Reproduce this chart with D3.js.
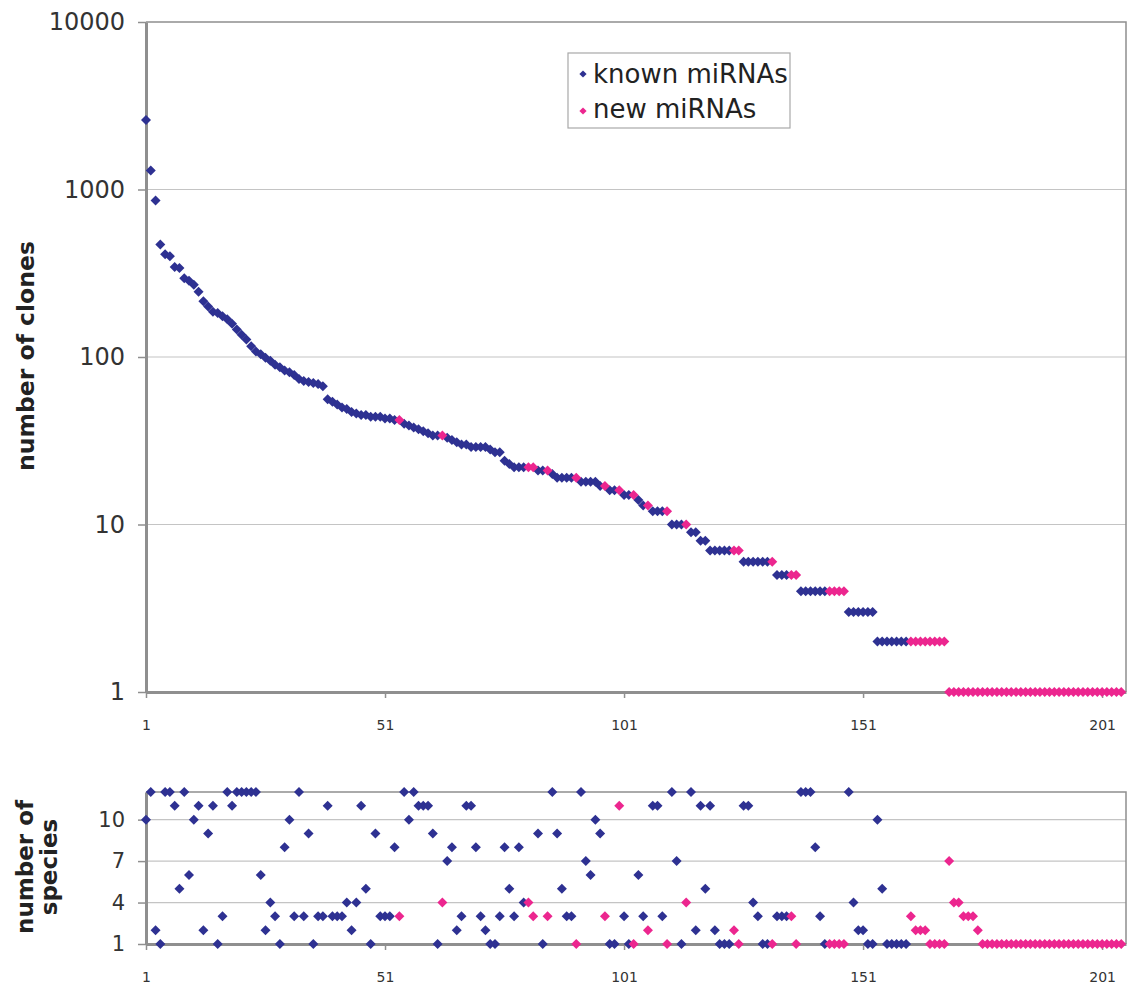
<!DOCTYPE html>
<html>
<head>
<meta charset="utf-8">
<script src="https://cdn.jsdelivr.net/npm/d3@7"></script>
<style>
  body { margin: 0; background: #fff; }
  svg { display: block; font-family: "DejaVu Sans", Verdana, sans-serif; }
</style>
</head>
<body>
<div id="chart"></div>
<script>
// number of clones per miRNA, ranked (rank 1..205)
const clones = [
    2600, 1300, 860, 470, 410, 400, 345, 340, 295, 285,
    270, 245, 215, 200, 186, 183, 175, 168, 158, 146,
    136, 127, 116, 108, 104, 99, 95, 90, 87, 83,
    81, 78, 74, 72, 71, 70, 69, 67,
    56, 54, 52, 50, 49, 47, 46, 45, 45, 44, 44, 44,
    43, 43, 42, 42, 40, 39, 38, 37, 36, 35,
    34, 34, 34, 33, 32, 31, 30, 30, 29, 29,
    29, 29, 28, 27, 27, 24, 23, 22, 22, 22,
    22, 22, 21, 21, 21, 20, 19, 19, 19, 19,
    19, 18, 18, 18, 18, 17, 17, 16, 16, 16,
    15, 15, 15, 14, 13, 13, 12, 12, 12, 12,
    10, 10, 10, 10, 9, 9, 8, 8, 7, 7,
    7, 7, 7, 7, 7, 6, 6, 6, 6, 6,
    6, 6, 5, 5, 5, 5, 5, 4, 4, 4,
    4, 4, 4, 4, 4, 4, 4, 3, 3, 3,
    3, 3, 3, 2, 2, 2, 2, 2, 2, 2,
    2, 2, 2, 2, 2, 2, 2, 2, 1, 1,
    1, 1, 1, 1, 1, 1, 1, 1, 1, 1,
    1, 1, 1, 1, 1, 1, 1, 1, 1, 1,
    1, 1, 1, 1, 1, 1, 1, 1, 1, 1,
    1, 1, 1, 1, 1
];

// number of species in which each miRNA was found (same ranking)
const species = [
    10, 12, 2, 1, 12, 12, 11, 5, 12, 6,
    10, 11, 2, 9, 11, 1, 3, 12, 11, 12,
    12, 12, 12, 12, 6, 2, 4, 3, 1, 8,
    10, 3, 12, 3, 9, 1, 3, 3, 11, 3,
    3, 3, 4, 2, 4, 11, 5, 1, 9, 3,
    3, 3, 8, 3, 12, 10, 12, 11, 11, 11,
    9, 1, 4, 7, 8, 2, 3, 11, 11, 8,
    3, 2, 1, 1, 3, 8, 5, 3, 8, 4,
    4, 3, 9, 1, 3, 12, 9, 5, 3, 3,
    1, 12, 7, 6, 10, 9, 3, 1, 1, 11,
    3, 1, 1, 6, 3, 2, 11, 11, 3, 1,
    12, 7, 1, 4, 12, 2, 11, 5, 11, 2,
    1, 1, 1, 2, 1, 11, 11, 4, 3, 1,
    1, 1, 3, 3, 3, 3, 1, 12, 12, 12,
    8, 3, 1, 1, 1, 1, 1, 12, 4, 2,
    2, 1, 1, 10, 5, 1, 1, 1, 1, 1,
    3, 2, 2, 2, 1, 1, 1, 1, 7, 4,
    4, 3, 3, 3, 2, 1, 1, 1, 1, 1,
    1, 1, 1, 1, 1, 1, 1, 1, 1, 1,
    1, 1, 1, 1, 1, 1, 1, 1, 1, 1,
    1, 1, 1, 1, 1
];

// ranks of the new miRNAs (all others are known)
const newRanks = [
    54, 63, 81, 82, 85, 91, 97, 100, 103, 106, 110, 114, 124, 125, 132,
    136, 137, 144, 145, 146, 147,
    161, 162, 163, 164, 165, 166, 167, 168, 169, 170, 171, 172, 173, 174, 175,
    176, 177, 178, 179, 180, 181, 182, 183, 184, 185, 186, 187, 188, 189, 190,
    191, 192, 193, 194, 195, 196, 197, 198, 199, 200, 201, 202, 203, 204, 205
];

const seriesNames = ["known miRNAs", "new miRNAs"];
const xTicks = [1, 51, 101, 151, 201];
const cloneTicks = [1, 10, 100, 1000, 10000];
const speciesTicks = [1, 4, 7, 10];

const colors = { "known miRNAs": "#2e3192", "new miRNAs": "#ec268f" };
const axisColor = "#8f8f8f";
const gridColor = "#c4c4c4";

let width = 1128,
    height = 985;

let svg = d3.select("#chart")
    .append("svg")
    .attr("width", width)
    .attr("height", height);

// data rows
const isNew = new Set(newRanks);
const rows = clones.map((c, i) => ({
    rank: i + 1,
    clones: c,
    species: species[i],
    type: isNew.has(i + 1) ? "new miRNAs" : "known miRNAs"
}));

// panels
const left = 146, right = 1126;
const top1 = 22, bottom1 = 692;
const top2 = 792, bottom2 = 944;

const x = d3.scaleLinear().domain([1, 206]).range([left, right]);
const yClones = d3.scaleLog().domain([1, 10000]).range([bottom1, top1]);
const ySpecies = d3.scaleLinear().domain([1, 12]).range([bottom2, top2]);

const diamond = "M0,-5L5,0L0,5L-5,0Z";

function drawPanel(y, yTicks, top, bottom, field, tickFont) {
    const g = svg.append("g");

    // grid lines
    g.selectAll("line.grid")
        .data(yTicks.filter(t => y(t) > top + 1 && y(t) < bottom - 1))
        .enter()
        .append("line")
        .attr("x1", left)
        .attr("x2", right)
        .attr("y1", d => y(d))
        .attr("y2", d => y(d))
        .attr("stroke", gridColor)
        .attr("stroke-width", 1.2);

    // top and right border
    g.append("path")
        .attr("d", `M${left},${top}H${right}V${bottom}`)
        .attr("fill", "none")
        .attr("stroke", axisColor)
        .attr("stroke-width", 1.5);

    // y axis
    const yAxis = g.append("g")
        .attr("transform", `translate(${left},0)`)
        .call(d3.axisLeft(y)
            .tickValues(yTicks)
            .tickFormat(d3.format("d"))
            .tickSize(8)
            .tickSizeOuter(0)
            .tickPadding(13));
    yAxis.select(".domain").attr("stroke", axisColor).attr("stroke-width", 3);
    yAxis.selectAll(".tick line").attr("stroke", axisColor).attr("stroke-width", 1.5);
    yAxis.selectAll("text")
        .attr("fill", "#333")
        .style("font-size", tickFont + "px")
        .style("font-family", "DejaVu Sans, Verdana, sans-serif");

    // x axis
    const xAxis = g.append("g")
        .attr("transform", `translate(0,${bottom})`)
        .call(d3.axisBottom(x)
            .tickValues(xTicks)
            .tickSize(6)
            .tickSizeOuter(0)
            .tickPadding(22));
    xAxis.select(".domain").attr("stroke", axisColor).attr("stroke-width", 3);
    xAxis.selectAll(".tick line").attr("stroke", axisColor).attr("stroke-width", 1.5);
    xAxis.selectAll("text")
        .attr("fill", "#333")
        .style("font-size", "14px")
        .style("font-family", "DejaVu Sans, Verdana, sans-serif");

    // markers, known series first then new
    seriesNames.forEach(name => {
        g.selectAll(null)
            .data(rows.filter(d => d.type === name))
            .enter()
            .append("path")
            .attr("d", diamond)
            .attr("transform", d => `translate(${x(d.rank)},${y(d[field])})`)
            .attr("fill", colors[name]);
    });
}

drawPanel(yClones, cloneTicks, top1, bottom1, "clones", 24);
drawPanel(ySpecies, speciesTicks, top2, bottom2, "species", 21);

// axis titles
svg.append("text")
    .attr("transform", "rotate(-90)")
    .attr("x", -356)
    .attr("y", 34)
    .attr("text-anchor", "middle")
    .style("font-size", "23.5px")
    .style("font-weight", "bold")
    .attr("fill", "#222")
    .text("number of clones");

svg.append("text")
    .attr("transform", "rotate(-90)")
    .attr("x", -867)
    .attr("y", 33)
    .attr("text-anchor", "middle")
    .style("font-size", "23px")
    .style("font-weight", "bold")
    .attr("fill", "#222")
    .text("number of");

svg.append("text")
    .attr("transform", "rotate(-90)")
    .attr("x", -867)
    .attr("y", 57)
    .attr("text-anchor", "middle")
    .style("font-size", "23px")
    .style("font-weight", "bold")
    .attr("fill", "#222")
    .text("species");

// legend
const legend = svg.append("g").attr("transform", "translate(568,53)");
legend.append("rect")
    .attr("width", 222)
    .attr("height", 75)
    .attr("fill", "#fff")
    .attr("stroke", "#a8a8a8")
    .attr("stroke-width", 1.2);
seriesNames.forEach((name, i) => {
    legend.append("path")
        .attr("d", "M0,-3.6L3.6,0L0,3.6L-3.6,0Z")
        .attr("transform", `translate(15,${21 + i * 37})`)
        .attr("fill", colors[name]);
    legend.append("text")
        .attr("x", 25)
        .attr("y", 30 + i * 35)
        .style("font-size", "26px")
        .attr("fill", "#222")
        .text(name);
});
</script>
</body>
</html>
